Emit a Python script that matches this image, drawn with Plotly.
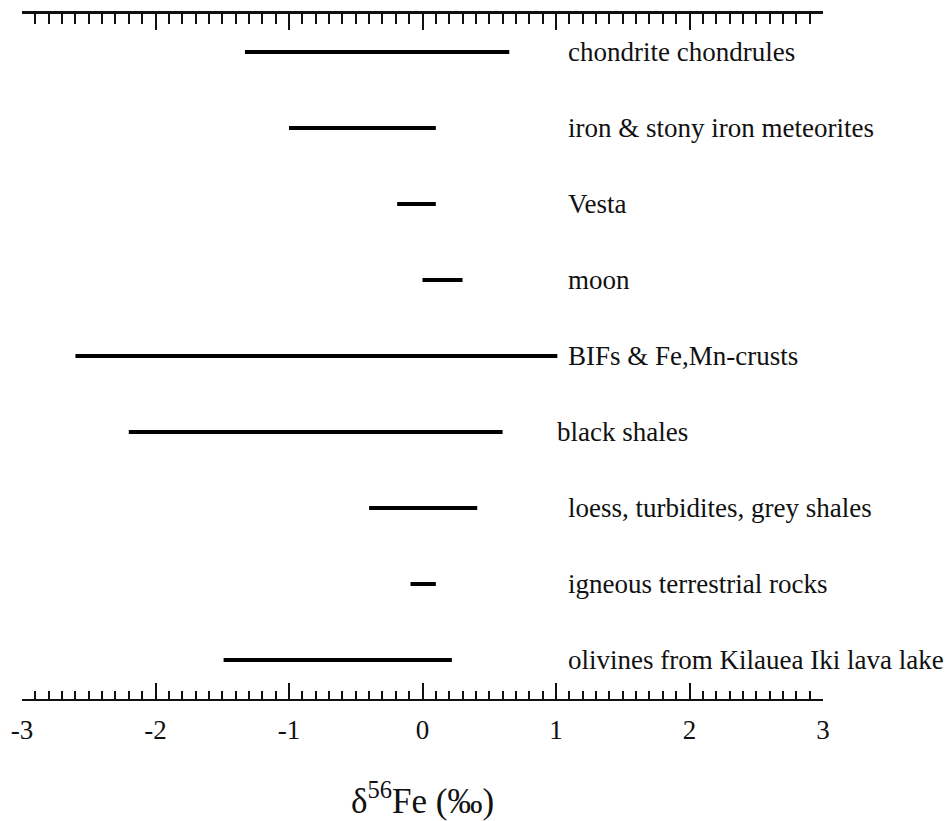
import plotly.graph_objects as go

# Reported ranges of delta-56Fe (per mil) for each group of samples
groups = [
    "chondrite chondrules",
    "iron & stony iron meteorites",
    "Vesta",
    "moon",
    "BIFs & Fe,Mn-crusts",
    "black shales",
    "loess, turbidites, grey shales",
    "igneous terrestrial rocks",
    "olivines from Kilauea Iki lava lake",
]
range_low = [-1.33, -1.00, -0.19, 0.00, -2.60, -2.20, -0.40, -0.09, -1.49]
range_high = [0.65, 0.10, 0.10, 0.30, 1.01, 0.60, 0.41, 0.10, 0.22]

tick_values = [-3, -2, -1, 0, 1, 2, 3]
tick_labels = ["-3", "-2", "-1", "0", "1", "2", "3"]

FONT = "Liberation Serif, Times New Roman, serif"
INK = "#111111"
LABEL_X = 1.076
LABEL_X_SHIFTED = {"black shales": 0.992}

fig = go.Figure()

for i, (name, lo, hi) in enumerate(zip(groups, range_low, range_high)):
    fig.add_trace(go.Scatter(
        x=[lo, hi], y=[i, i], mode="lines",
        line=dict(color="black", width=4),
        hoverinfo="skip", showlegend=False,
    ))
    fig.add_annotation(
        x=LABEL_X_SHIFTED.get(name, LABEL_X), y=i, xref="x", yref="y",
        text=name, showarrow=False, xanchor="left", yanchor="middle",
        font=dict(family=FONT, size=27, color=INK),
    )

# invisible trace so the top scale axis is drawn
fig.add_trace(go.Scatter(x=[-3, 3], y=[0, 0], xaxis="x2", mode="lines",
                         line=dict(width=0), hoverinfo="skip", showlegend=False))


def scale_axis(major_len, minor_len):
    return dict(
        range=[-3, 3],
        tickvals=tick_values,
        ticks="inside", ticklen=major_len, tickwidth=2, tickcolor=INK,
        showline=True, linewidth=2, linecolor=INK,
        showgrid=False, zeroline=False,
        minor=dict(dtick=0.1, tick0=0, ticks="inside", ticklen=minor_len,
                   tickwidth=1.8, tickcolor=INK, showgrid=False),
    )


fig.update_layout(
    width=952, height=821,
    margin=dict(l=22, r=129, t=13, b=122),
    paper_bgcolor="white", plot_bgcolor="white",
    xaxis=dict(**scale_axis(16, 8), ticktext=tick_labels, side="bottom",
               mirror="allticks", ticklabelstandoff=6,
               tickfont=dict(family=FONT, size=27, color=INK)),
    # top scale: same ticks, no labels
    xaxis2=dict(**scale_axis(16, 10), overlaying="x", side="top",
                anchor="free", position=0.9995, showticklabels=False),
    yaxis=dict(range=[8.513, -0.513], visible=False),
)

fig.add_annotation(
    x=0, y=0, xref="x", yref="paper", yanchor="middle", yshift=-99,
    text="δ<sup>56</sup>Fe (‰)", showarrow=False,
    font=dict(family=FONT, size=35, color=INK),
)

fig.write_html("out.html")
